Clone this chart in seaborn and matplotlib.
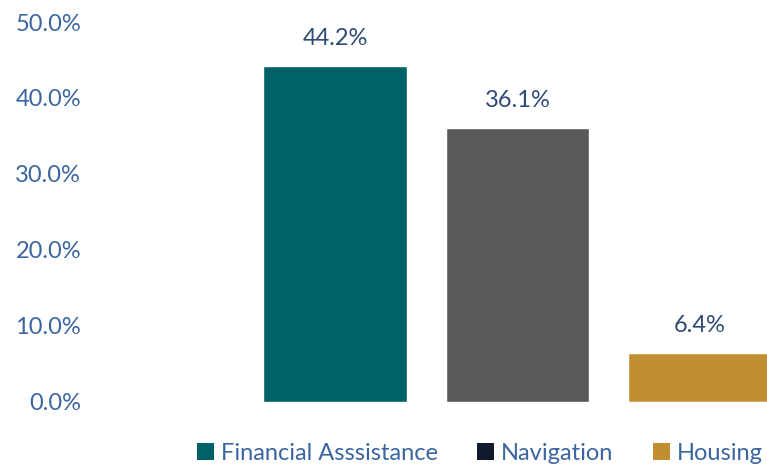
import matplotlib
matplotlib.use("Agg")
import matplotlib.pyplot as plt
import seaborn as sns
import pandas as pd
from matplotlib.patches import Patch

categories = ["Financial Asssistance", "Navigation", "Housing"]
values = [44.2, 36.1, 6.4]
value_labels = ["44.2%", "36.1%", "6.4%"]
yticks = [0, 10, 20, 30, 40, 50]
ytick_labels = ["0.0%", "10.0%", "20.0%", "30.0%", "40.0%", "50.0%"]

bar_colors = ["#006168", "#58595B", "#C18F31"]
legend_colors = ["#006168", "#111A2C", "#C18F31"]
tick_color = "#3B65A0"
label_color = "#2E4A76"

sns.set_theme(style="white")
plt.rcParams["font.family"] = ["Lato", "DejaVu Sans"]

df = pd.DataFrame({"cat": categories, "val": values})

W, H = 767, 466
fig = plt.figure(figsize=(W / 100, H / 100), dpi=100)
ax = fig.add_axes([100 / W, 1 - 401.5 / H, (767 - 100) / W, (401.5 - 22) / H])

sns.barplot(data=df, x="cat", y="val", hue="cat", order=categories,
            hue_order=categories, palette=bar_colors, width=0.787,
            legend=False, ax=ax, saturation=1)

ax.set_xlim(-1.288, 2.367)
ax.set_ylim(0, 50)
ax.set_yticks(yticks)
ax.set_yticklabels(ytick_labels, fontsize=17, color=tick_color)
ax.tick_params(axis="y", length=0, pad=13.5)
ax.set_xticks([])
ax.set_xlabel("")
ax.set_ylabel("")
for s in ax.spines.values():
    s.set_visible(False)

for i, (v, lab) in enumerate(zip(values, value_labels)):
    ax.annotate(lab, (i, v), xytext=(0, 12), textcoords="offset points",
                ha="center", va="bottom", fontsize=17, color=label_color)

handles = [Patch(facecolor=c, edgecolor="none") for c in legend_colors]
fig.legend(handles, categories, loc="center", bbox_to_anchor=(480 / W, 1 - 453 / H),
           ncol=3, frameon=False, fontsize=17, labelcolor=tick_color,
           handlelength=0.72, handleheight=0.72, handletextpad=0.3,
           columnspacing=1.65, borderpad=0, borderaxespad=0)

fig.savefig("out.png", dpi=100)
